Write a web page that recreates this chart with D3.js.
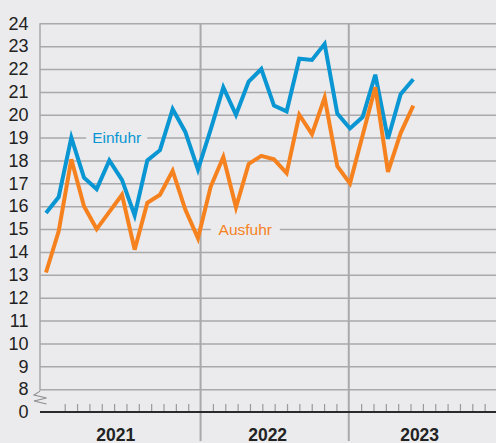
<!DOCTYPE html>
<html lang="de">
<head>
<meta charset="UTF-8">
<title>Einfuhr / Ausfuhr</title>
<style>
    body { margin: 0; background: #ebebed; }
    svg { display: block; font-family: "Liberation Sans", Arial, sans-serif; }
    .grid line { stroke: #a9a9ab; stroke-width: 1.5; }
    .grid .domain { display: none; }
    .ylabels text { font-size: 18px; fill: #222; }
    .ylabels .domain, .ylabels line { display: none; }
    .months line { stroke: #9a9a9c; stroke-width: 1.2; }
    .months .domain { display: none; }
    .year { font-size: 17.5px; font-weight: bold; fill: #222; }
</style>
</head>
<body>
<svg id="chart"></svg>
<script src="https://d3js.org/d3.v7.min.js"></script>
<script>
    // Monatswerte Jan 2021 - Jun 2023
    const months = ["Jan 21","Feb 21","Mär 21","Apr 21","Mai 21","Jun 21","Jul 21","Aug 21","Sep 21","Okt 21","Nov 21","Dez 21",
                    "Jan 22","Feb 22","Mär 22","Apr 22","Mai 22","Jun 22","Jul 22","Aug 22","Sep 22","Okt 22","Nov 22","Dez 22",
                    "Jan 23","Feb 23","Mär 23","Apr 23","Mai 23","Jun 23"];
    const einfuhr = [15.7, 16.4, 19.0, 17.25, 16.75, 18.0, 17.15, 15.6, 18.0, 18.45, 20.25, 19.25,
                     17.6, 19.35, 21.2, 20.0, 21.45, 22.0, 20.4, 20.15, 22.45, 22.4, 23.1, 20.05,
                     19.4, 19.9, 21.75, 18.95, 20.9, 21.55];
    const ausfuhr = [13.1, 14.9, 18.05, 16.0, 15.0, 15.75, 16.5, 14.1, 16.15, 16.5, 17.55, 15.85,
                     14.6, 16.85, 18.15, 15.95, 17.85, 18.2, 18.05, 17.45, 20.0, 19.15, 20.75, 17.75,
                     17.0, 19.1, 21.2, 17.5, 19.2, 20.4];
    const years = ["2021", "2022", "2023"];
    const yTicks = [0, 8, 9, 10, 11, 12, 13, 14, 15, 16, 17, 18, 19, 20, 21, 22, 23, 24];

    const W = 496, H = 443;
    const plotLeft = 40, plotRight = 497, plotTop = 23.3, plotBase = 412;
    const blue = "#0a96d2", orange = "#f5821f";

    const svg = d3.select("#chart").attr("width", W).attr("height", H);
    svg.append("rect").attr("width", W).attr("height", H).attr("fill", "#ebebed");

    // y: 0 sits one step below 8 (axis break)
    const yScale = d3.scaleLinear().domain([7, 24]).range([plotBase, plotTop]);
    const yPos = v => yScale(v === 0 ? 7 : v);

    // month slots for axis ticks, data points on their own scale
    const xAxisScale = d3.scaleLinear().domain([-1, 36]).range([plotLeft, plotRight]);
    const xScale = d3.scalePoint().domain(months).range([46, 413.3]);
    const xi = d3.scaleLinear().domain([0, months.length - 1]).range([46, 413.3]);

    // gridlines
    svg.append("g")
        .attr("class", "grid")
        .attr("transform", `translate(${plotLeft},0)`)
        .call(d3.axisLeft(yScale).tickValues(yTicks.filter(d => d > 0)).tickSize(-(W - plotLeft)).tickFormat(""));

    // tick labels
    svg.append("g")
        .attr("class", "ylabels")
        .attr("transform", `translate(${plotLeft},0)`)
        .call(d3.axisLeft(yScale).tickValues(yTicks.map(d => d === 0 ? 7 : d)).tickSize(0).tickPadding(11.5)
            .tickFormat(d => d === 7 ? "0" : d));

    // left axis line with break
    svg.append("line")
        .attr("x1", plotLeft).attr("x2", plotLeft)
        .attr("y1", plotTop).attr("y2", yPos(8) + 1.5)
        .attr("stroke", "#a9a9ab").attr("stroke-width", 1.5);
    svg.append("polyline")
        .attr("points", [[plotLeft, yPos(8) + 2], [34, 395], [46.5, 398], [34, 401], [46.5, 404]].map(p => p.join(",")).join(" "))
        .attr("fill", "none").attr("stroke", "#8c8c8e").attr("stroke-width", 1.1);

    // year dividers
    svg.selectAll("line.divider")
        .data([12, 24])
        .join("line")
        .attr("class", "divider")
        .attr("x1", d => xAxisScale(d)).attr("x2", d => xAxisScale(d))
        .attr("y1", plotTop).attr("y2", 441)
        .attr("stroke", "#a9a9ab").attr("stroke-width", 2);

    // series labels with background box
    const labels = [
        {text: "Einfuhr", color: blue, x: 116.7, v: 19, w: 61},
        {text: "Ausfuhr", color: orange, x: 245.3, v: 15, w: 69}
    ];
    labels.forEach(l => {
        svg.append("rect")
            .attr("x", l.x - l.w / 2).attr("y", yScale(l.v) - 4)
            .attr("width", l.w).attr("height", 8)
            .attr("fill", "#ebebed");
        svg.append("text")
            .attr("x", l.x).attr("y", yScale(l.v))
            .attr("dy", "0.35em")
            .attr("text-anchor", "middle")
            .attr("fill", l.color)
            .style("font-size", "15.5px")
            .text(l.text);
    });

    // month ticks
    const monthTicks = d3.range(1, 36).filter(k => k !== 12 && k !== 24);
    svg.append("g")
        .attr("class", "months")
        .attr("transform", `translate(0,${plotBase - 1})`)
        .call(d3.axisTop(xAxisScale).tickValues(monthTicks).tickSize(7).tickFormat(""));

    // base axis
    svg.append("line")
        .attr("x1", plotLeft).attr("x2", W)
        .attr("y1", plotBase).attr("y2", plotBase)
        .attr("stroke", "#2a2a2a").attr("stroke-width", 2);

    // year labels
    svg.selectAll("text.year")
        .data(years)
        .join("text")
        .attr("class", "year")
        .attr("x", (d, i) => xi(i * 12 + 5.5))
        .attr("y", 440.5)
        .attr("text-anchor", "middle")
        .text(d => d);

    // lines
    const line = d3.line()
        .x((d, i) => xScale(months[i]))
        .y(d => yScale(d));

    svg.append("path")
        .datum(einfuhr)
        .attr("d", line)
        .attr("fill", "none")
        .attr("stroke", blue)
        .attr("stroke-width", 4);

    svg.append("path")
        .datum(ausfuhr)
        .attr("d", line)
        .attr("fill", "none")
        .attr("stroke", orange)
        .attr("stroke-width", 4);
</script>
</body>
</html>
